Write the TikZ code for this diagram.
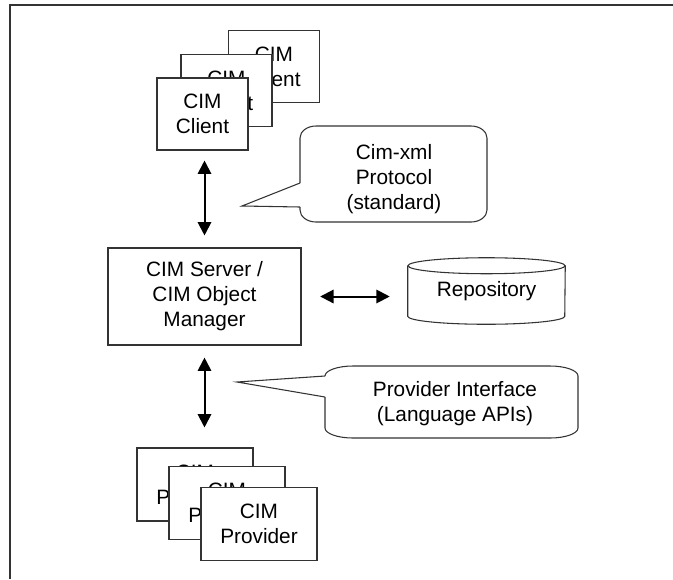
\documentclass[tikz,border=0pt]{standalone}
\usepackage{fontspec}
\setmainfont{Liberation Sans}
\usetikzlibrary{arrows.meta}

\begin{document}
\begin{tikzpicture}[x=0.75pt,y=-0.75pt,
every node/.style={font=\fontsize{15.6}{18.75}\selectfont,align=center},
box/.style={draw=black!80,fill=white,line width=0.8pt},
client/.style={box,minimum width=68.25pt,minimum height=54pt},
provider/.style={box,minimum width=87pt,minimum height=54.75pt},
link/.style={{Triangle[length=10pt,width=10pt]}-{Triangle[length=10pt,width=10pt]},line width=1.5pt},
balloon/.style={draw=black!80,line width=0.8pt}]
\useasboundingbox (0,0) rectangle (673,579);
\draw[black!80,line width=1.2pt] (673,5) -- (10,5) -- (10,579);

% clients, back one first
\node[client] (c2) at (274,66.5) {CIM\\Client};
\node[client] (c1) at (226.5,90.5) {CIM\\Client};
\node[client] (c0) at (202.5,114) {CIM\\Client};

\node[box,minimum width=144.75pt,minimum height=72.75pt] (Server) at (204.5,296.5) {CIM Server /\\CIM Object\\Manager};

% repository drum
\node[minimum width=117.75pt,minimum height=49.5pt] (Repo) at (486.5,291) {Repository};
\draw[balloon] ([yshift=-6pt]Repo.north west) -- ([yshift=6pt]Repo.south west)
  arc[start angle=180,end angle=0,x radius=78.5,y radius=8] -- ([yshift=-6pt]Repo.north east);
\draw[balloon] ([yshift=-6pt]Repo.north) ellipse[x radius=78.5,y radius=8];

% providers
\node[provider] (p2) at (195,484.5) {CIM\\Provider};
\node[provider] (p1) at (227,503) {CIM\\Provider};
\node[provider] (p0) at (259,524) {CIM\\Provider};

\draw[link,shorten <=7.5pt,shorten >=9pt] (Server.north |- c0.south) -- (Server.north);
\draw[link,shorten <=14pt,shorten >=13.5pt] (Server.east) -- (Server.east -| Repo.west);
\draw[link,shorten <=9pt,shorten >=15pt] (Server.south) -- (Server.south |- p2.north);

% speech balloons
\node (note0) at (394,179) {Cim-xml\\Protocol\\(standard)};
\coordinate (tip0) at (242,206);
\draw[balloon] (300,183) -- (300,138) arc[start angle=180,end angle=270,x radius=16,y radius=12]
  -- (471,126) arc[start angle=270,end angle=360,x radius=16,y radius=12]
  -- (487,210) arc[start angle=0,end angle=90,x radius=16,y radius=12]
  -- (316,222) arc[start angle=90,end angle=180,x radius=16,y radius=12] -- (300,207);
\draw[balloon] (300,183) -- (tip0) -- (300,207);

\node (note1) at (455,404) {Provider Interface\\(Language APIs)};
\coordinate (tip1) at (237,382);
\draw[balloon] (325,376) arc[start angle=180,end angle=270,x radius=28,y radius=10]
  -- (550,366) arc[start angle=270,end angle=360,x radius=28,y radius=10]
  -- (578,428) arc[start angle=0,end angle=90,x radius=28,y radius=10]
  -- (353,438) arc[start angle=90,end angle=180,x radius=28,y radius=10] -- (325,397);
\draw[balloon] (325,376) -- (tip1) -- (325,397);
\end{tikzpicture}
\end{document}
